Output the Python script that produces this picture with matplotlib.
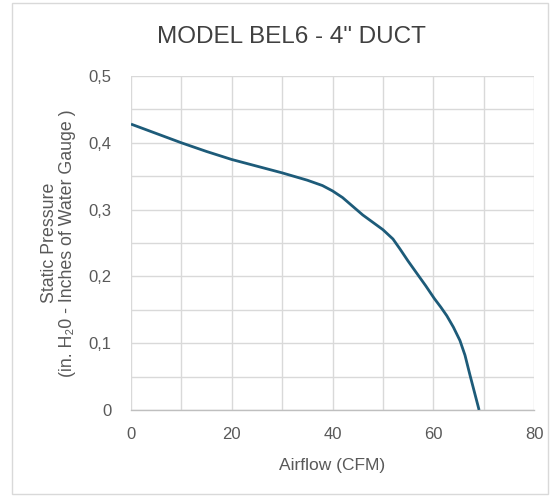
import matplotlib.pyplot as plt
from matplotlib.patches import Rectangle

# fan curve
airflow = [0, 5, 10, 15, 20, 25, 30, 35, 38, 40, 42, 44, 46, 48, 50,
           52, 53.4, 55, 56.7, 58.5, 60.2, 61.5, 62.7, 64, 65.3, 66.3,
           67.3, 68.2, 69.1]
pressure = [0.428, 0.414, 0.400, 0.387, 0.375, 0.365, 0.355, 0.344, 0.336,
            0.328, 0.318, 0.305, 0.292, 0.281, 0.270, 0.256, 0.241, 0.223,
            0.205, 0.186, 0.167, 0.154, 0.141, 0.124, 0.104, 0.082, 0.052,
            0.026, 0.0]

x_ticks = [0, 20, 40, 60, 80]
y_ticks = [0, 0.1, 0.2, 0.3, 0.4, 0.5]
y_tick_labels = ["0", "0,1", "0,2", "0,3", "0,4", "0,5"]

title = 'MODEL BEL6 - 4" DUCT'
xlabel = "Airflow (CFM)"
ylabel = "Static Pressure\n(in. H\u20820 - Inches of Water Gauge )"

plt.rcParams["font.family"] = ["Liberation Sans", "DejaVu Sans"]

text_col = "#595959"
grid_col = "#d9d9d9"
line_col = "#1d5b79"

W, H = 553, 498
fig = plt.figure(figsize=(W / 100, H / 100), dpi=100)

# outer chart frame
fig.patches.append(Rectangle((12 / W, 4 / H), 536 / W, 491 / H,
                             transform=fig.transFigure, fill=False,
                             edgecolor=grid_col, linewidth=1))

ax = fig.add_axes([131 / W, 1 - 410 / H, (534 - 131) / W, (410 - 76) / H])

ax.plot(airflow, pressure, color=line_col, linewidth=2.0, zorder=5,
        solid_capstyle="butt", solid_joinstyle="round")

ax.set_xlim(0, 80)
ax.set_ylim(0, 0.5)
ax.set_xticks(x_ticks)
ax.set_yticks(y_ticks)
ax.set_yticklabels(y_tick_labels)
ax.set_xticks(range(0, 81, 10), minor=True)
ax.set_yticks([i * 0.05 for i in range(11)], minor=True)

ax.grid(True, which="both", color=grid_col, linewidth=1.0)
ax.set_axisbelow(True)
for s in ["top", "right", "left"]:
    ax.spines[s].set_visible(False)
ax.spines["bottom"].set_color("#bfbfbf")
ax.spines["bottom"].set_linewidth(1.0)

ax.tick_params(which="both", length=0, labelsize=12, labelcolor=text_col)
ax.tick_params(axis="x", pad=12)
ax.tick_params(axis="y", pad=14)

ax.set_xlabel(xlabel, fontsize=12.5, color=text_col, labelpad=12)
ax.set_ylabel(ylabel, fontsize=12.8, color=text_col, labelpad=9,
              linespacing=1.1)

fig.text(291 / W, 1 - 37 / H, title, ha="center",
         va="center", fontsize=17.5, color="#404040")

fig.savefig("out.png", dpi=100)
